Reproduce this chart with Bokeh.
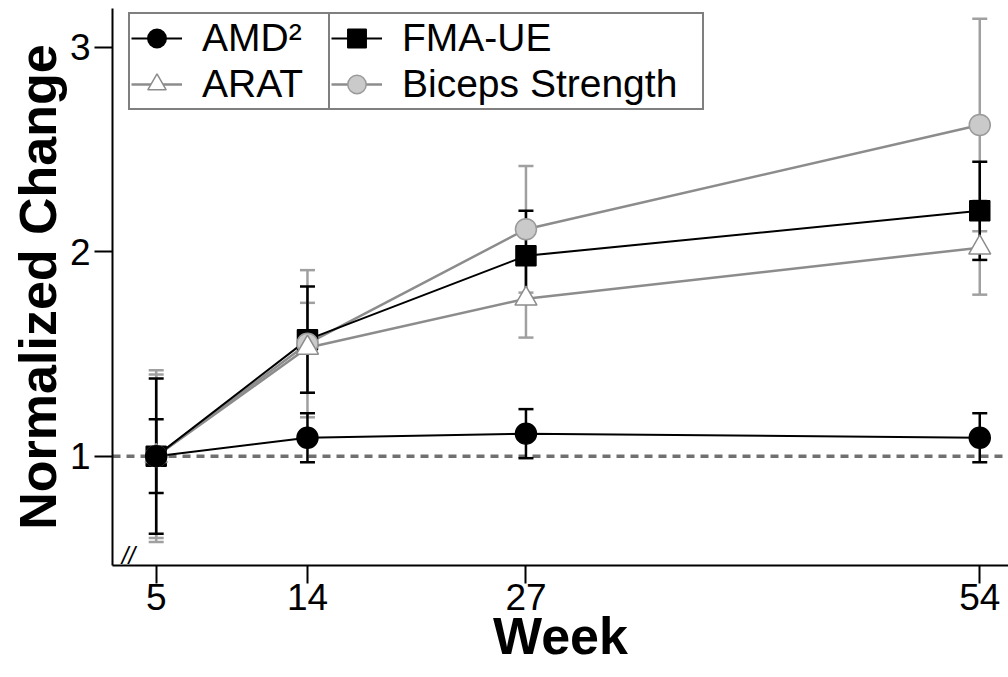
from bokeh.plotting import figure
from bokeh.models import (ColumnDataSource, Whisker, TeeHead, Span, Legend, LegendItem,
                          Range1d, FixedTicker, Label)
from bokeh.embed import file_html
from bokeh.resources import INLINE

# ---- data ----
weeks = [5, 14, 27, 54]
amd_mean = [1.00, 1.09, 1.11, 1.09]
amd_err = [0.18, 0.12, 0.12, 0.12]
fma_mean = [1.00, 1.57, 1.98, 2.20]
fma_err = [0.38, 0.26, 0.22, 0.24]
arat_mean = [1.00, 1.53, 1.77, 2.02]
arat_err = [0.40, 0.22, 0.19, 0.23]
biceps_mean = [1.00, 1.55, 2.11, 2.62]
biceps_err = [0.42, 0.36, 0.31, 0.52]
x_ticks = [5, 14, 27, 54]
y_ticks = [1, 2, 3]
baseline = 1.0

X_START, X_END = 2.40, 55.71
Y_START, Y_END = 0.465, 3.19

FONT = "Liberation Sans"

p = figure(width=1008, height=677, output_backend="svg", toolbar_location=None,
           x_range=Range1d(X_START, X_END), y_range=Range1d(Y_START, Y_END),
           min_border_left=112, min_border_right=0, min_border_top=8,
           min_border_bottom=112)
p.outline_line_color = None
p.grid.visible = False
p.background_fill_color = "white"
p.border_fill_color = "white"

for ax in (p.xaxis[0], p.yaxis[0]):
    ax.axis_line_width = 2
    ax.axis_line_color = "black"
    ax.major_tick_line_width = 2
    ax.major_tick_line_color = "black"
    ax.major_tick_out = 18
    ax.major_tick_in = 0
    ax.minor_tick_line_color = None
    ax.major_label_text_font = FONT
    ax.major_label_text_font_size = "37px"
    ax.major_label_text_color = "black"
    ax.axis_label_text_font = FONT
    ax.axis_label_text_font_size = "52px"
    ax.axis_label_text_font_style = "bold"
    ax.axis_label_text_color = "black"

p.xaxis.ticker = FixedTicker(ticks=x_ticks)
p.yaxis.ticker = FixedTicker(ticks=y_ticks)
p.xaxis.axis_label = "Week"
p.yaxis.axis_label = "Normalized Change"
p.xaxis.major_label_standoff = 0
p.xaxis.axis_label_standoff = -6
p.yaxis.major_label_standoff = 4
p.yaxis.axis_label_standoff = 0

span = Span(location=baseline, dimension="width", line_color="#707070",
            line_width=3.5, line_dash="8 6", level="underlay")
p.add_layout(span)

series = [
    dict(key="biceps", label="Biceps Strength", mean=biceps_mean, err=biceps_err,
         line="#8c8c8c", ecol="#a0a0a0", marker="circle", fill="#cacaca",
         mline="#9a9a9a", size=21, lw=2.5),
    dict(key="arat", label="ARAT", mean=arat_mean, err=arat_err,
         line="#8c8c8c", ecol="#a0a0a0", marker="triangle", fill="white",
         mline="#8c8c8c", size=22, lw=2.5),
    dict(key="fma", label="FMA-UE", mean=fma_mean, err=fma_err,
         line="black", ecol="black", marker="square", fill="black",
         mline="black", size=20, lw=2),
    dict(key="amd", label="AMD²", mean=amd_mean, err=amd_err,
         line="black", ecol="black", marker="circle", fill="black",
         mline="black", size=21, lw=2),
]

sources = {}
for s in series:
    src = ColumnDataSource(dict(
        x=weeks, y=s["mean"],
        upper=[m + e for m, e in zip(s["mean"], s["err"])],
        lower=[m - e for m, e in zip(s["mean"], s["err"])]))
    sources[s["key"]] = src
    w = Whisker(base="x", upper="upper", lower="lower", source=src,
                dimension="height", line_color=s["ecol"], line_width=2.5,
                upper_head=TeeHead(size=15, line_color=s["ecol"], line_width=2.5),
                lower_head=TeeHead(size=15, line_color=s["ecol"], line_width=2.5))
    w.level = "underlay"
    p.add_layout(w)

line_r = {}
for s in series:
    line_r[s["key"]] = p.line("x", "y", source=sources[s["key"]],
                              line_color=s["line"], line_width=s["lw"])

marker_order = ["fma", "biceps", "arat", "amd"]
mark_r = {}
byk = {s["key"]: s for s in series}
for k in marker_order:
    s = byk[k]
    mark_r[k] = p.scatter("x", "y", source=sources[k], marker=s["marker"],
                          size=s["size"], fill_color=s["fill"],
                          line_color=s["mline"], line_width=1.5)


def make_legend(keys, loc, label_width):
    items = [LegendItem(label=byk[k]["label"], renderers=[line_r[k], mark_r[k]])
             for k in keys]
    leg = Legend(items=items, location=loc, orientation="vertical",
                 border_line_color="black", border_line_width=2,
                 background_fill_color="white", background_fill_alpha=1.0,
                 padding=1, spacing=0, margin=0,
                 glyph_width=51, glyph_height=46, label_height=46,
                 label_standoff=20, label_width=label_width,
                 label_text_font=FONT, label_text_font_size="39px",
                 label_text_color="black")
    return leg


p.add_layout(make_legend(["amd", "arat"], (16, 455), 127))
p.add_layout(make_legend(["fma", "biceps"], (216, 455), 299))

brk = Label(x=X_START, y=Y_START, x_offset=16, y_offset=10,
            text="//", text_font=FONT, text_font_size="24px", text_color="black",
            text_font_style="italic",
            text_align="center", text_baseline="middle")
p.add_layout(brk)

open("out.html", "w").write(file_html(p, INLINE))
